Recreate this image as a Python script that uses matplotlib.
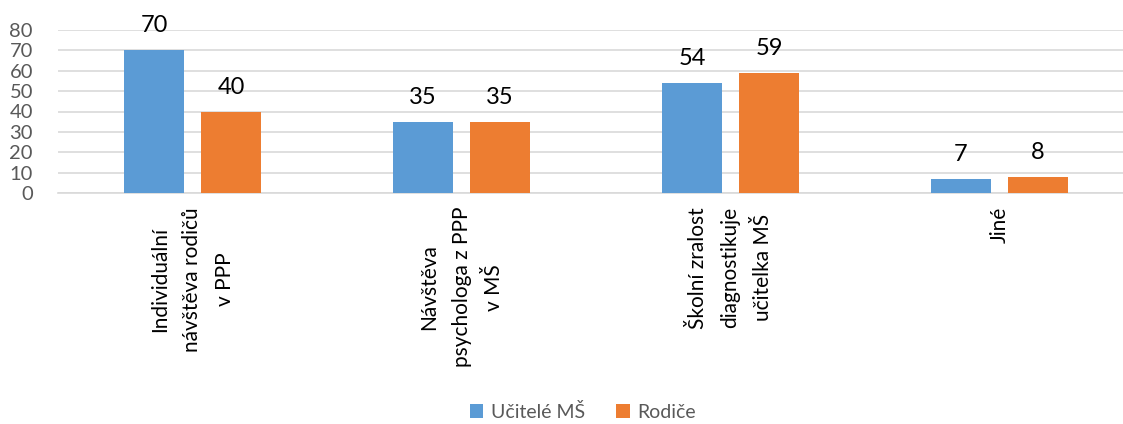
import matplotlib.pyplot as plt
import numpy as np

plt.rcParams['font.family'] = ['Lato', 'DejaVu Sans']

categories = ["Individuální\nnávštěva rodičů\nv PPP",
              "Návštěva\npsychologa z PPP\nv MŠ",
              "Školní zralost\ndiagnostikuje\nučitelka MŠ",
              "Jiné"]
ucitele = [70, 35, 54, 7]
rodice = [40, 35, 59, 8]
series_names = ["Učitelé MŠ", "Rodiče"]
colors = ["#5B9BD5", "#ED7D31"]

W, H = 1123, 424
fig = plt.figure(figsize=(W / 100, H / 100), dpi=100)
# plot area (pixels): x from 58 over 4 categories of 269 px, y 0 at 193, 80 at 30
ax = fig.add_axes([58 / W, 1 - 193 / H, 1076 / W, 163 / H])

x = np.arange(len(categories))
bw = 0.223
off = 0.143
for vals, dx, c, name in [(ucitele, -off, colors[0], series_names[0]),
                          (rodice, off, colors[1], series_names[1])]:
    bars = ax.bar(x + dx, vals, bw, color=c, label=name, zorder=3)
    ax.bar_label(bars, padding=10, fontsize=17, color="black")

ax.set_xlim(-0.5, 3.5)
ax.set_ylim(0, 80)
ax.set_yticks(range(0, 81, 10))
ax.yaxis.grid(True, color="#D9D9D9", linewidth=1.2, zorder=0)
ax.set_axisbelow(True)
for s in ["top", "right", "left"]:
    ax.spines[s].set_visible(False)
ax.spines["bottom"].set_color("#D9D9D9")
ax.spines["bottom"].set_linewidth(1.2)
ax.tick_params(axis="y", length=0, pad=18, labelsize=14.5, labelcolor="#595959")
ax.tick_params(axis="x", length=0, pad=10)
ax.set_xticks(x)
ax.set_xticklabels(categories, rotation=90, fontsize=15, color="black",
                   ha="center", va="top", multialignment="center",
                   linespacing=1.8)

handles, labels = ax.get_legend_handles_labels()
fig.legend(handles, labels, loc="center", bbox_to_anchor=(0.519, 1 - 412 / H),
           ncol=2, frameon=False, fontsize=14, labelcolor="#595959",
           handlelength=0.7, handleheight=0.7, handletextpad=0.4,
           columnspacing=1.6)

fig.savefig("out.png", dpi=100)
